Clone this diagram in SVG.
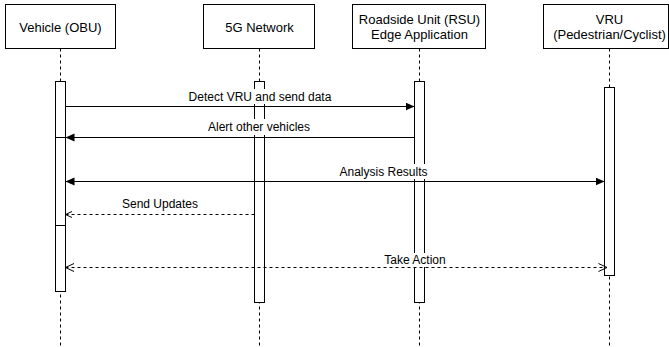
<svg xmlns="http://www.w3.org/2000/svg" width="669" height="347" viewBox="0 0 669 347">
<style>
.box{fill:#fff;stroke:#000;stroke-width:1}
.life{stroke:#000;stroke-width:1;stroke-dasharray:3 3;fill:none}
.act{fill:#fff;stroke:#000;stroke-width:1}
.hdr{font-family:"Liberation Sans",Helvetica,Arial,sans-serif;font-size:13px;fill:#000;text-anchor:middle}
.lbl{font-family:"Liberation Sans",Helvetica,Arial,sans-serif;font-size:12px;fill:#000;text-anchor:middle}
.msg{stroke:#000;stroke-width:1;fill:none}
.dash{stroke-dasharray:3 3}
.lbg{fill:#fff;stroke:none}
</style>
<defs>
<marker id="block" markerUnits="userSpaceOnUse" markerWidth="10" markerHeight="9" refX="9" refY="4" orient="auto-start-reverse">
<path d="M0,0 L9,4 L0,8 z" fill="#000"/>
</marker>
<marker id="open" markerUnits="userSpaceOnUse" markerWidth="11" markerHeight="10" refX="9" refY="4.5" orient="auto-start-reverse">
<path d="M0.5,0.5 L9,4.5 L0.5,8.5" fill="none" stroke="#000" stroke-width="1"/>
</marker>
<marker id="opensm" markerUnits="userSpaceOnUse" markerWidth="9" markerHeight="8" refX="7" refY="3.5" orient="auto-start-reverse">
<path d="M0.5,0.5 L7,3.5 L0.5,6.5" fill="none" stroke="#000" stroke-width="1"/>
</marker>
</defs>
<rect width="669" height="347" fill="#fff"/>

<g id="vehicle">
<rect class="box" x="5.5" y="4.5" width="110" height="44"/>
<text class="hdr" x="60.5" y="31.5">Vehicle (OBU)</text>
<line class="life" x1="60.5" y1="48.5" x2="60.5" y2="347"/>
<rect class="act" x="55.5" y="81.5" width="10" height="210"/>
<line class="msg" x1="55.5" y1="137.5" x2="65.5" y2="137.5"/>
<line class="msg" x1="55.5" y1="225.5" x2="65.5" y2="225.5"/>
</g>

<g id="network">
<rect class="box" x="203.5" y="4.5" width="111" height="44"/>
<text class="hdr" x="259.5" y="31.5">5G Network</text>
<line class="life" x1="259.5" y1="48.5" x2="259.5" y2="347"/>
<rect class="act" x="254.5" y="81.5" width="10" height="221"/>
</g>

<g id="rsu">
<rect class="box" x="352.5" y="4.5" width="133" height="44"/>
<text class="hdr" x="419.5" y="23.5">Roadside Unit (RSU)</text>
<text class="hdr" x="419.5" y="38.5">Edge Application</text>
<line class="life" x1="419.5" y1="48.5" x2="419.5" y2="347"/>
<rect class="act" x="414.5" y="81.5" width="10" height="221"/>
</g>

<g id="vru">
<rect class="box" x="543.5" y="4.5" width="125" height="44"/>
<text class="hdr" x="609.5" y="23.5">VRU</text>
<text class="hdr" x="609.5" y="38.5">(Pedestrian/Cyclist)</text>
<line class="life" x1="609.5" y1="48.5" x2="609.5" y2="347"/>
<rect class="act" x="604.5" y="87.5" width="10" height="188"/>
</g>

<g id="connectors">
<line class="msg" x1="65.5" y1="106.5" x2="414.5" y2="106.5" marker-end="url(#block)"/>
<line class="msg" x1="414.5" y1="137.5" x2="65.5" y2="137.5" marker-end="url(#block)"/>
<line class="msg" x1="65.5" y1="181.5" x2="604.5" y2="181.5" marker-start="url(#block)" marker-end="url(#block)"/>
<line class="msg dash" x1="254.5" y1="214.5" x2="65.5" y2="214.5" marker-end="url(#opensm)"/>
<line class="msg dash" x1="65.5" y1="267.5" x2="607" y2="267.5" marker-start="url(#open)" marker-end="url(#open)"/>

<rect class="lbg" x="188" y="89" width="144" height="15"/>
<text class="lbl" x="260" y="101">Detect VRU and send data</text>
<rect class="lbg" x="206" y="119" width="106" height="16"/>
<text class="lbl" x="259" y="131">Alert other vehicles</text>
<rect class="lbg" x="337" y="164" width="93" height="15"/>
<text class="lbl" x="383.5" y="176">Analysis Results</text>
<rect class="lbg" x="122" y="197" width="76" height="14"/>
<text class="lbl" x="160" y="208">Send Updates</text>
<rect class="lbg" x="383" y="253" width="64" height="14"/>
<text class="lbl" x="415" y="264">Take Action</text>
</g>
</svg>
